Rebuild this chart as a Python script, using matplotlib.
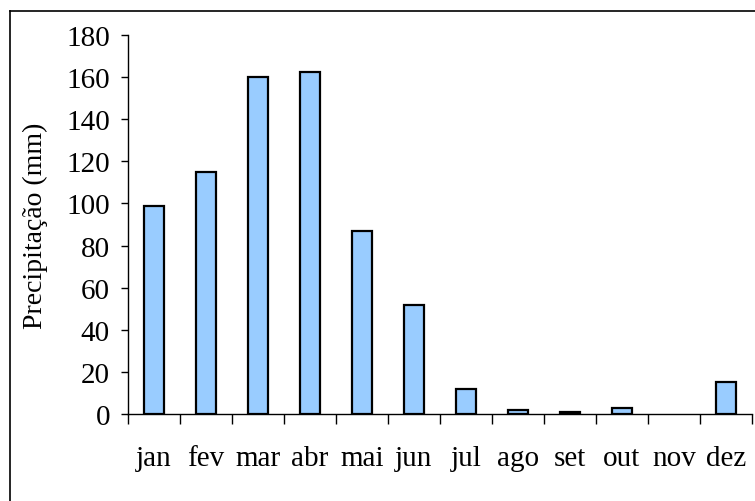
import matplotlib
matplotlib.use("Agg")
import matplotlib.pyplot as plt
from matplotlib.lines import Line2D

months = ["jan", "fev", "mar", "abr", "mai", "jun", "jul", "ago", "set", "out", "nov", "dez"]
precip = [99, 115, 160, 162.5, 87, 52, 12, 2, 1, 3, 0, 15]
yticks = [0, 20, 40, 60, 80, 100, 120, 140, 160, 180]

plt.rcParams['font.family'] = ['Liberation Serif', 'DejaVu Serif']

W, H = 755, 502
fig = plt.figure(figsize=(W/100, H/100), dpi=100)
ax = fig.add_axes([128/W, 1 - 415/H, (752-128)/W, (415-36)/H])

x = list(range(len(months)))
lws = [1.6 if v > 0 else 0 for v in precip]
ax.bar(x, precip, width=0.4, color="#99CCFF", edgecolor="black", linewidth=lws, zorder=3)

ax.set_xlim(-0.5, 11.5)
ax.set_ylim(0, 180)
ax.set_yticks(yticks)
ax.set_yticklabels([str(v) for v in yticks], fontsize=21)
ax.set_xticks(x)
ax.set_xticklabels(months, fontsize=21)
ax.set_xticks([i - 0.5 for i in range(13)], minor=True)
ax.tick_params(axis='x', which='major', length=0, pad=22)
ax.tick_params(axis='x', which='minor', length=7, width=1, direction='out')
ax.tick_params(axis='y', which='major', length=5, width=1, direction='out', pad=8)
for s in ['top', 'right']:
    ax.spines[s].set_visible(False)
for s in ['left', 'bottom']:
    ax.spines[s].set_linewidth(1)
ax.set_ylabel("Precipitação (mm)", fontsize=20)
ax.yaxis.set_label_coords(-0.128, 0.5)

# outer frame
fig.add_artist(Line2D([10/W, 10/W], [0, 1 - 12/H], transform=fig.transFigure, color='black', lw=1.2))
fig.add_artist(Line2D([10/W, 1], [1 - 12/H, 1 - 12/H], transform=fig.transFigure, color='black', lw=1.2))

fig.savefig("out.png", dpi=100)
